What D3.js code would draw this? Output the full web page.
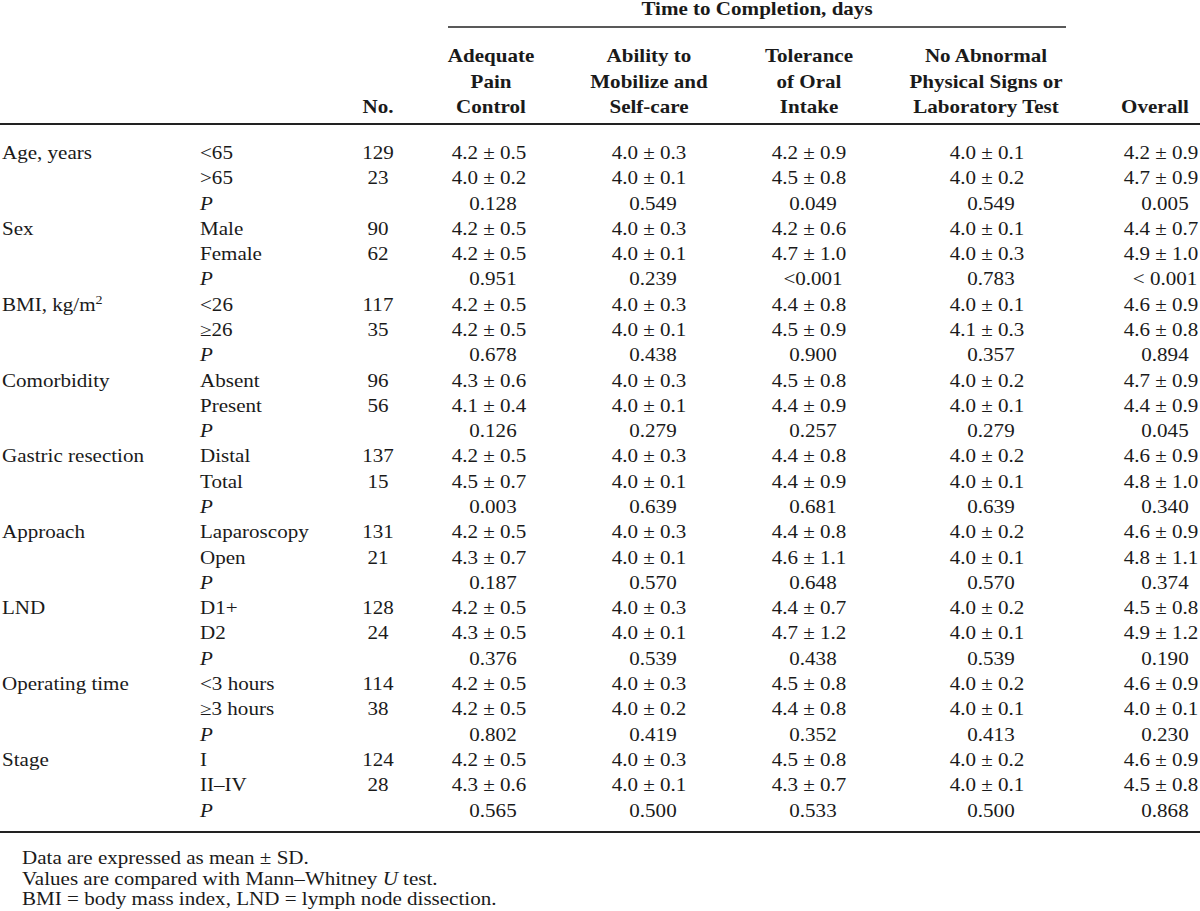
<!DOCTYPE html>
<html><head><meta charset="utf-8">
<script src="https://cdn.jsdelivr.net/npm/d3@7"></script>
<style>
html,body{margin:0;padding:0;background:#fff;}
svg text{font-family:"Liberation Serif","Times New Roman",serif;fill:#1a1a1a;}
</style></head>
<body>
<svg id="chart" width="1200" height="911"></svg>
<script>
// ---------- data ----------
const variables = ["Age, years","Sex","BMI, kg/m","Comorbidity","Gastric resection","Approach","LND","Operating time","Stage"];
const groupLabels = [["<65",">65"],["Male","Female"],["<26","\u226526"],["Absent","Present"],["Distal","Total"],["Laparoscopy","Open"],["D1+","D2"],["<3 hours","\u22653 hours"],["I","II\u2013IV"]];
const groupN = [[129,23],[90,62],[117,35],[96,56],[137,15],[131,21],[128,24],[114,38],[124,28]];
const columnHeaders = [["Adequate","Pain","Control"],["Ability to","Mobilize and","Self-care"],["Tolerance","of Oral","Intake"],["No Abnormal","Physical Signs or","Laboratory Test"],["Overall"]];
const spannerTitle = "Time to Completion, days";
const painControl = [["4.2 \u00b1 0.5","4.0 \u00b1 0.2","0.128"],["4.2 \u00b1 0.5","4.2 \u00b1 0.5","0.951"],["4.2 \u00b1 0.5","4.2 \u00b1 0.5","0.678"],["4.3 \u00b1 0.6","4.1 \u00b1 0.4","0.126"],["4.2 \u00b1 0.5","4.5 \u00b1 0.7","0.003"],["4.2 \u00b1 0.5","4.3 \u00b1 0.7","0.187"],["4.2 \u00b1 0.5","4.3 \u00b1 0.5","0.376"],["4.2 \u00b1 0.5","4.2 \u00b1 0.5","0.802"],["4.2 \u00b1 0.5","4.3 \u00b1 0.6","0.565"]];
const mobilize = [["4.0 \u00b1 0.3","4.0 \u00b1 0.1","0.549"],["4.0 \u00b1 0.3","4.0 \u00b1 0.1","0.239"],["4.0 \u00b1 0.3","4.0 \u00b1 0.1","0.438"],["4.0 \u00b1 0.3","4.0 \u00b1 0.1","0.279"],["4.0 \u00b1 0.3","4.0 \u00b1 0.1","0.639"],["4.0 \u00b1 0.3","4.0 \u00b1 0.1","0.570"],["4.0 \u00b1 0.3","4.0 \u00b1 0.1","0.539"],["4.0 \u00b1 0.3","4.0 \u00b1 0.2","0.419"],["4.0 \u00b1 0.3","4.0 \u00b1 0.1","0.500"]];
const oralIntake = [["4.2 \u00b1 0.9","4.5 \u00b1 0.8","0.049"],["4.2 \u00b1 0.6","4.7 \u00b1 1.0","<0.001"],["4.4 \u00b1 0.8","4.5 \u00b1 0.9","0.900"],["4.5 \u00b1 0.8","4.4 \u00b1 0.9","0.257"],["4.4 \u00b1 0.8","4.4 \u00b1 0.9","0.681"],["4.4 \u00b1 0.8","4.6 \u00b1 1.1","0.648"],["4.4 \u00b1 0.7","4.7 \u00b1 1.2","0.438"],["4.5 \u00b1 0.8","4.4 \u00b1 0.8","0.352"],["4.5 \u00b1 0.8","4.3 \u00b1 0.7","0.533"]];
const noAbnormal = [["4.0 \u00b1 0.1","4.0 \u00b1 0.2","0.549"],["4.0 \u00b1 0.1","4.0 \u00b1 0.3","0.783"],["4.0 \u00b1 0.1","4.1 \u00b1 0.3","0.357"],["4.0 \u00b1 0.2","4.0 \u00b1 0.1","0.279"],["4.0 \u00b1 0.2","4.0 \u00b1 0.1","0.639"],["4.0 \u00b1 0.2","4.0 \u00b1 0.1","0.570"],["4.0 \u00b1 0.2","4.0 \u00b1 0.1","0.539"],["4.0 \u00b1 0.2","4.0 \u00b1 0.1","0.413"],["4.0 \u00b1 0.2","4.0 \u00b1 0.1","0.500"]];
const overall = [["4.2 \u00b1 0.9","4.7 \u00b1 0.9","0.005"],["4.4 \u00b1 0.7","4.9 \u00b1 1.0","< 0.001"],["4.6 \u00b1 0.9","4.6 \u00b1 0.8","0.894"],["4.7 \u00b1 0.9","4.4 \u00b1 0.9","0.045"],["4.6 \u00b1 0.9","4.8 \u00b1 1.0","0.340"],["4.6 \u00b1 0.9","4.8 \u00b1 1.1","0.374"],["4.5 \u00b1 0.8","4.9 \u00b1 1.2","0.190"],["4.6 \u00b1 0.9","4.0 \u00b1 0.1","0.230"],["4.6 \u00b1 0.9","4.5 \u00b1 0.8","0.868"]];
const footnotes = ["Data are expressed as mean \u00b1 SD.","Values are compared with Mann\u2013Whitney |U| test.","BMI = body mass index, LND = lymph node dissection."];

// ---------- layout ----------
const W = 1200, H = 911;
const FS = 18, SX = 1.17;
const svg = d3.select("#chart");
const valueCols = [painControl, mobilize, oralIntake, noAbnormal, overall];
const colKeys = ["var","grp","n","c0","c1","c2","c3","c4"];
const xCol = d3.scaleOrdinal().domain(colKeys).range([2, 200, 378, 489, 649, 809, 987, 1161]);
const headerX = d3.scaleOrdinal().domain(["n","c0","c1","c2","c3","c4"]).range([378, 491, 649, 809, 986, 1155]);
const nRows = variables.length * 3;
const yRow = d3.scaleLinear().domain([0, nRows - 1]).range([159, 816.5]);
const yHead = d3.scaleLinear().domain([0, 2]).range([62, 113]);

function txt(g, x, y, s, anchor, opts = {}) {
  const t = g.append("text")
    .attr("transform", `translate(${x},${y}) scale(${SX},1)`)
    .attr("text-anchor", anchor)
    .attr("font-size", opts.size || FS)
    .attr("font-weight", opts.bold ? "bold" : "normal");
  if (opts.italic) t.attr("font-style", "italic");
  return t.text(s);
}

// rules
const rules = svg.append("g").attr("stroke", "#222");
rules.append("line").attr("x1", 448).attr("x2", 1066).attr("y1", 27).attr("y2", 27).attr("stroke-width", 1.4);
rules.append("line").attr("x1", 0).attr("x2", W).attr("y1", 124).attr("y2", 124).attr("stroke-width", 2.2);
rules.append("line").attr("x1", 0).attr("x2", W).attr("y1", 832).attr("y2", 832).attr("stroke-width", 2.2);

// header
const head = svg.append("g");
txt(head, 757, 15, spannerTitle, "middle", {bold: true});
txt(head, headerX("n"), yHead(2), "No.", "middle", {bold: true});
columnHeaders.forEach((lines, i) => {
  const off = 3 - lines.length;
  lines.forEach((l, j) => txt(head, headerX("c" + i), yHead(j + off), l, "middle", {bold: true}));
});

// body
const body = svg.append("g");
variables.forEach((v, vi) => {
  const r0 = vi * 3;
  const t = txt(body, xCol("var"), yRow(r0), v, "start");
  if (vi === 2) t.append("tspan").attr("dy", -7).attr("font-size", 12).text("2");
  groupLabels[vi].forEach((gl, gi) => {
    txt(body, xCol("grp"), yRow(r0 + gi), gl, "start");
    txt(body, xCol("n"), yRow(r0 + gi), String(groupN[vi][gi]), "middle");
  });
  txt(body, xCol("grp"), yRow(r0 + 2), "P", "start", {italic: true});
  valueCols.forEach((col, ci) => {
    const cell = col[vi];
    txt(body, xCol("c" + ci), yRow(r0), cell[0], "middle");
    txt(body, xCol("c" + ci), yRow(r0 + 1), cell[1], "middle");
    txt(body, xCol("c" + ci) + 4, yRow(r0 + 2), cell[2], "middle");
  });
});

// footnotes
const foot = svg.append("g");
const yFoot = d3.scaleLinear().domain([0, 2]).range([864, 905]);
footnotes.forEach((f, i) => {
  const t = foot.append("text")
    .attr("transform", `translate(22,${yFoot(i)}) scale(${SX},1)`)
    .attr("font-size", FS);
  f.split("|").forEach((part, k) => {
    const ts = t.append("tspan").text(part);
    if (k % 2 === 1) ts.attr("font-style", "italic");
  });
});
</script>
</body></html>
